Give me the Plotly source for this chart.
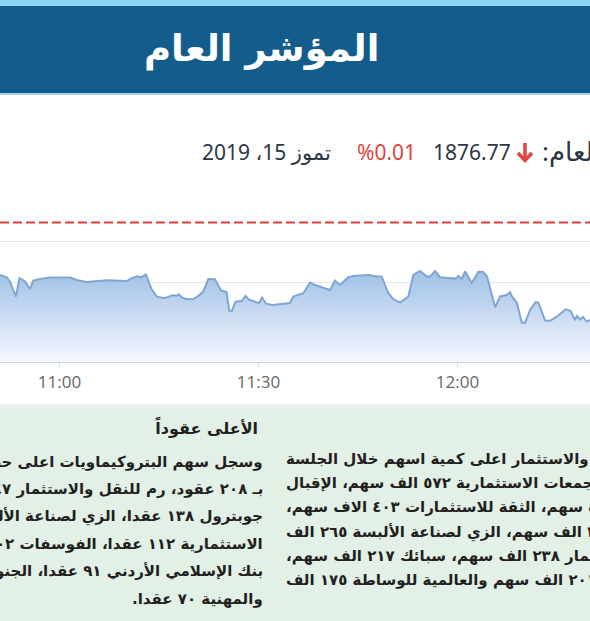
import plotly.graph_objects as go

# ---------------- data ----------------
DATE = "2019-07-15"
times = [
    "10:51:02", "10:52:02", "10:52:32", "10:53:26", "10:53:58", "10:54:48", "10:55:33", "10:56:03",
    "10:57:04", "10:58:34", "11:01:35", "11:02:35", "11:04:06", "11:06:06", "11:07:07", "11:10:08",
    "11:10:53", "11:11:38", "11:12:22", "11:13:02", "11:13:52", "11:14:39", "11:15:39", "11:16:10",
    "11:17:02", "11:17:40", "11:17:55", "11:18:37", "11:19:13", "11:20:10", "11:21:02", "11:21:41",
    "11:22:26", "11:23:26", "11:24:21", "11:25:11", "11:25:35", "11:25:58", "11:26:32", "11:27:28",
    "11:28:02", "11:28:34", "11:30:05", "11:30:32", "11:31:08", "11:32:07", "11:34:09", "11:34:45",
    "11:35:15", "11:36:00", "11:36:45", "11:37:46", "11:38:31", "11:39:32", "11:40:47", "11:41:32",
    "11:42:17", "11:43:32", "11:44:33", "11:46:49", "11:47:19", "11:48:35", "11:49:34", "11:50:19",
    "11:51:20", "11:52:35", "11:53:20", "11:54:21", "11:55:22", "11:55:52", "11:56:37", "11:57:22",
    "11:59:42", "12:00:08", "12:00:38", "12:01:08", "12:02:08", "12:03:08", "12:03:53", "12:04:25",
    "12:05:40", "12:06:25", "12:07:25", "12:07:55", "12:08:13", "12:08:56", "12:09:41", "12:10:11",
    "12:10:56", "12:11:46", "12:12:11", "12:13:12", "12:13:57", "12:14:58", "12:16:17", "12:17:02",
    "12:17:43", "12:18:01", "12:18:28", "12:18:55", "12:19:27", "12:19:59",
]
index_values = [
    1874.35, 1874.23, 1874.03, 1873.27, 1874.19, 1874.03, 1873.65, 1874.07,
    1874.15, 1874.22, 1874.22, 1874.10, 1874.00, 1874.04, 1874.09, 1874.05,
    1874.19, 1874.28, 1874.24, 1874.37, 1873.65, 1873.27, 1873.20, 1873.23,
    1873.34, 1873.32, 1873.39, 1873.20, 1873.14, 1873.15, 1873.33, 1873.53,
    1874.15, 1874.14, 1873.58, 1873.50, 1872.58, 1872.55, 1873.02, 1873.05,
    1873.31, 1873.12, 1872.95, 1873.23, 1872.92, 1872.85, 1872.94, 1872.95,
    1873.27, 1873.35, 1873.44, 1873.97, 1873.85, 1873.74, 1873.60, 1874.07,
    1873.85, 1874.24, 1874.31, 1874.35, 1874.30, 1874.27, 1873.44, 1873.14,
    1872.97, 1873.27, 1874.35, 1874.55, 1874.27, 1874.27, 1874.55, 1874.24,
    1874.17, 1874.30, 1874.15, 1874.53, 1873.95, 1874.51, 1874.50, 1874.30,
    1872.74, 1873.28, 1873.35, 1873.49, 1873.27, 1872.97, 1871.97, 1871.97,
    1872.61, 1873.00, 1872.97, 1872.08, 1872.07, 1872.27, 1872.64, 1872.56,
    1872.11, 1872.31, 1872.13, 1872.26, 1872.03, 1872.11,
]
previous_close = 1876.96
last_value = "1876.77"
change_pct = "%0.01"
date_label = "تموز 15، 2019"
title_text = "المؤشر العام"
index_label = "المؤشر العام"
tick_times = ["11:00", "11:30", "12:00"]
x_range = ["10:51:02", "12:19:58"]
y_range = [1870, 1878]

left_heading = "الأعلى عقوداً"
left_lines = [
    "وسجل سهم البتروكيماويات اعلى حجم تداول",
    "بـ ٢٠٨ عقود، رم للنقل والاستثمار ١٤٧ عقدا،",
    "جوبترول ١٣٨ عقدا، الزي لصناعة الألبسة ١٣٠ عقدا،",
    "الاستثمارية ١١٢ عقدا، الفوسفات ١٠٢ عقدا،",
    "بنك الإسلامي الأردني ٩١ عقدا، الجنوب",
    "والمهنية ٧٠ عقدا.",
]
right_lines = [
    "وسجل سهم رم للنقل والاستثمار اعلى كمية اسهم خلال الجلسة",
    "بلغت ٨٨٦ الف سهم، التجمعات الاستثمارية ٥٧٢ الف سهم، الإقبال",
    "للطباعة ٤١٢ الاف سهم، الثقة للاستثمارات ٤٠٣ الاف سهم،",
    "الاتحاد ٣٥٠ الف سهم، الزي لصناعة الألبسة ٢٦٥ الف",
    "سهم، الأمل للاستثمار ٢٣٨ الف سهم، سبائك ٢١٧ الف سهم،",
    "للخدمات اللوجستيات ٢٠١ الف سهم والعالمية للوساطة ١٧٥ الف",
]

# ---------------- layout helpers ----------------
W, H = 590, 621
def px(x):
    return x / W
def py(y):
    return 1 - y / H
RLM = "\u200f"
def rtl(s):
    return RLM + s + RLM

AR_FONT = "DejaVu Sans"
NUM_FONT = "Noto Sans, DejaVu Sans"
RED = "#e0443c"
DARK = "#2b3743"

xs = [f"{DATE} {t}" for t in times]

fig = go.Figure()
fig.add_trace(go.Scatter(
    x=xs, y=index_values, mode="lines",
    line=dict(color="#7fa5d2", width=2),
    fill="tozeroy",
    fillgradient=dict(type="vertical",
                      colorscale=[[0, "rgba(246,248,253,1)"], [1, "rgba(160,193,232,1)"]],
                      start=1870, stop=1874.5),
    hoverinfo="skip", showlegend=False,
))

def rect(y0, y1, color):
    return dict(type="rect", xref="paper", yref="paper", x0=0, x1=1, y0=py(y1), y1=py(y0),
                fillcolor=color, line=dict(width=0), layer="below")

shapes = [
    rect(0, 6, "#8ed4f5"),
    rect(6, 93, "#145c8c"),
    rect(93, 95, "#a6d0ea"),
    rect(404, 408, "#f1f1f1"),
    rect(408, 621, "#e2f0e6"),
    dict(type="line", xref="paper", yref="y", x0=0, x1=1, y0=previous_close, y1=previous_close,
         line=dict(color="#d9403a", width=2, dash="9px,4px")),
    # down arrow next to the index value
    dict(type="line", xref="paper", yref="paper", x0=px(525), x1=px(525), y0=py(143), y1=py(160),
         line=dict(color=RED, width=3.5)),
    dict(type="path", xref="paper", yref="paper",
         path=f"M {px(518)},{py(153)} L {px(525)},{py(160.5)} L {px(532)},{py(153)}",
         line=dict(color=RED, width=3.5)),
]

ann = []
ann.append(dict(text=title_text, x=px(261), y=py(49), xref="paper", yref="paper",
                showarrow=False, xanchor="center", yanchor="middle",
                font=dict(family=AR_FONT, size=37, color="white", weight="bold")))
# info line
ann.append(dict(text=rtl(date_label), x=px(333), y=py(152), xref="paper", yref="paper",
                showarrow=False, xanchor="right", yanchor="middle",
                font=dict(family=NUM_FONT, size=21, color=DARK)))
ann.append(dict(text=change_pct, x=px(418), y=py(152), xref="paper", yref="paper",
                showarrow=False, xanchor="right", yanchor="middle",
                font=dict(family=NUM_FONT, size=21, color=RED)))
ann.append(dict(text=last_value, x=px(513), y=py(152), xref="paper", yref="paper",
                showarrow=False, xanchor="right", yanchor="middle",
                font=dict(family=NUM_FONT, size=21, color=DARK)))
ann.append(dict(text=":" + index_label, x=px(540), y=py(151), xref="paper", yref="paper",
                showarrow=False, xanchor="left", yanchor="middle",
                font=dict(family=NUM_FONT, size=26, color=DARK)))

# bottom text
ann.append(dict(text=rtl(left_heading), x=px(260), y=py(427), xref="paper", yref="paper",
                showarrow=False, xanchor="right", yanchor="middle",
                font=dict(family=AR_FONT, size=16, color="#231f20", weight="bold")))
left_y = [462, 489, 516, 544, 571, 599]
for s, yy in zip(left_lines, left_y):
    ann.append(dict(text=rtl(s), x=px(265), y=py(yy), xref="paper", yref="paper",
                    showarrow=False, xanchor="right", yanchor="middle",
                    font=dict(family=AR_FONT, size=15, color="#231f20", weight="bold")))
right_y = [459, 483, 507, 532, 556, 580]
for s, yy in zip(right_lines, right_y):
    ann.append(dict(text=rtl(s), x=px(284), y=py(yy), xref="paper", yref="paper",
                    showarrow=False, xanchor="left", yanchor="middle",
                    font=dict(family=AR_FONT, size=15, color="#231f20", weight="bold")))

fig.update_layout(
    width=W, height=H,
    margin=dict(l=0, r=0, t=0, b=0),
    paper_bgcolor="white", plot_bgcolor="white",
    shapes=shapes, annotations=ann,
    showlegend=False,
    xaxis=dict(
        type="date",
        range=[f"{DATE} {x_range[0]}", f"{DATE} {x_range[1]}"],
        tickvals=[f"{DATE} {t}" for t in tick_times],
        ticktext=tick_times,
        ticks="outside", ticklen=4, tickcolor="#ccd6eb",
        showline=True, linecolor="#ccd6eb", linewidth=1,
        showgrid=False, zeroline=False,
        tickfont=dict(family="Open Sans, Noto Sans", size=17, color="#666666"),
        fixedrange=True,
    ),
    yaxis=dict(
        range=y_range, dtick=2, tick0=1870,
        domain=[py(362.3), py(201.7)],
        showgrid=True, gridcolor="#e6e6e6", gridwidth=1,
        showticklabels=False, zeroline=False, showline=False,
        fixedrange=True,
    ),
)

fig.write_html("out.html", config={"displayModeBar": False},
               post_script="document.body.style.margin='0';document.body.style.overflow='hidden';")
